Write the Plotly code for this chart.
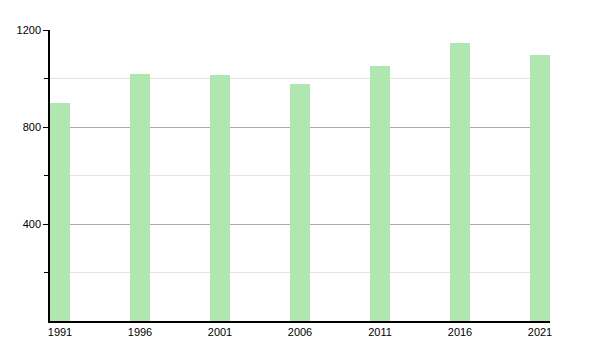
import plotly.graph_objects as go

years = [1991, 1996, 2001, 2006, 2011, 2016, 2021]
population = [899, 1018, 1014, 979, 1052, 1146, 1097]
tick_labels = [str(y) for y in years]

fig = go.Figure(go.Bar(
    x=years, y=population, width=1.25,
    marker=dict(color="rgb(176,230,176)", line=dict(width=0)),
))

fig.update_layout(
    width=600, height=350,
    margin=dict(l=50, r=50, t=30, b=29),
    plot_bgcolor="white", paper_bgcolor="white",
    showlegend=False,
    font=dict(family="Liberation Sans, Arial, sans-serif", size=11, color="black"),
    bargap=0,
)
fig.update_xaxes(
    range=[1991 - 0.625, 2021 + 0.625],
    tickvals=years, ticktext=tick_labels,
    showline=True, linecolor="black", linewidth=1.5,
    ticks="", showgrid=False, zeroline=False,
)
fig.update_yaxes(
    range=[0, 1200], tickvals=[400, 800, 1200],
    showline=True, linecolor="black", linewidth=1.5,
    ticks="outside", ticklen=5, tickcolor="black",
    showgrid=True, gridcolor="#aaaaaa", gridwidth=1,
    zeroline=False,
    minor=dict(tickvals=[200, 600, 1000], ticks="outside", ticklen=4,
               tickcolor="black", showgrid=True, gridcolor="#e3e3e3"),
)

fig.write_html("out.html")
